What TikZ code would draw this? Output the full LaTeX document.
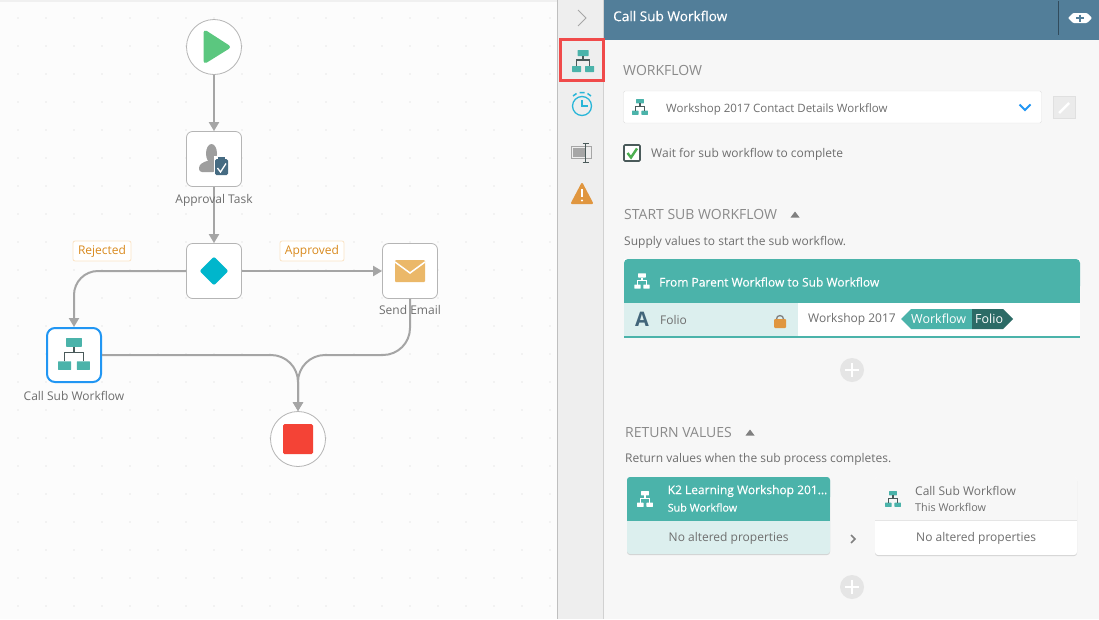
\documentclass[tikz,border=0pt]{standalone}
\usepackage{fontspec}
\setmainfont{Open Sans}
\newfontfamily\semifont[FakeBold=0.25]{Open Sans}
\usetikzlibrary{arrows.meta, positioning, shadows, shapes.geometric}

\definecolor{canvasbg}{HTML}{FCFCFC}
\definecolor{griddot}{HTML}{D4D4D4}
\definecolor{toolbg}{HTML}{EEEEEE}
\definecolor{panelbg}{HTML}{F7F7F7}
\definecolor{headbg}{HTML}{527E99}
\definecolor{flowline}{HTML}{A5A5A5}
\definecolor{stepline}{HTML}{B5B5B5}
\definecolor{teal}{HTML}{4BB3AA}
\definecolor{paleteal}{HTML}{DCEFEE}
\definecolor{darkteal}{HTML}{2C6B66}
\definecolor{inktext}{HTML}{6E6E6E}
\definecolor{headtext}{HTML}{8A8A8A}
\definecolor{slate}{HTML}{4A5A5A}
\definecolor{amber}{HTML}{E0963F}
\definecolor{sky}{HTML}{2196F3}
\definecolor{cyanclock}{HTML}{29B6D8}
\definecolor{playgreen}{HTML}{5BC77F}
\definecolor{gateblue}{HTML}{00B6CC}
\definecolor{mailgold}{HTML}{EBB869}
\definecolor{stopred}{HTML}{F44336}
\definecolor{markred}{HTML}{F04A4A}
\definecolor{branchline}{HTML}{FBE3C4}
\definecolor{branchtext}{HTML}{D98A1E}
\definecolor{checkgreen}{HTML}{4CAF50}

\tikzset{
    stepbox/.style={draw=stepline, fill=white, rounded corners=6pt, minimum size=55pt, inner sep=0pt, line width=0.8pt},
    endpoint/.style={draw=stepline, fill=white, circle, minimum size=55pt, inner sep=0pt, line width=0.8pt},
    flow/.style={draw=flowline, line width=2pt, -{Triangle[length=9pt, width=10pt]}},
    steplabel/.style={font=\fontsize{12}{14}\selectfont, text=inktext, inner sep=0pt},
    branch/.style={draw=branchline, fill=white, rounded corners=2pt, line width=0.8pt, text=branchtext, font=\fontsize{12}{14}\selectfont, inner sep=0pt, minimum height=20pt},
    txt/.style={anchor=west, inner sep=0pt, text=inktext, font=\fontsize{12}{14}\selectfont},
    section/.style={anchor=west, inner sep=0pt, text=headtext, font=\fontsize{14}{16}\selectfont},
    cardshadow/.style={drop shadow={shadow xshift=0pt, shadow yshift=-1pt, opacity=0.15, fill=black}},
    addbtn/.style={circle, fill=black!10, minimum size=24pt, inner sep=0pt},
    pics/orgicon/.style 2 args={code={
        \fill[#1, rounded corners=0.5pt] (-5.5,-11) rectangle (5.5,-5);
        \fill[#1, rounded corners=0.5pt] (-11,5) rectangle (-2,11);
        \fill[#1, rounded corners=0.5pt] (2,5) rectangle (11,11);
        \draw[#2, line width=1.4pt] (0,-5) -- (0,-1) (-6.5,5) -- (-6.5,-1) -- (6.5,-1) -- (6.5,5);
    }},
    pics/plussign/.style={code={
        \draw[white, line width=2.2pt] (-7,0) -- (7,0) (0,-7) -- (0,7);
    }},
}

\begin{document}
\begin{tikzpicture}[x=1pt, y=-1pt]
    \useasboundingbox (0,0) rectangle (1099,619);
    \fill[canvasbg] (0,0) rectangle (557,619);
    \fill[black!6] (0,0) rectangle (557,1.5);

    % Canvas dots
    \foreach \x in {0,...,19} {
        \foreach \y in {0,...,21} {
            \fill[griddot] (18+28*\x,18+28*\y) circle (0.6);
        }
    }

    % Workflow steps
    \node[endpoint] (start) at (214,47) {};
    \node[stepbox] (task) at (214,159) {};
    \node[stepbox] (decide) at (214,271) {};
    \node[stepbox] (mail) at (410,271) {};
    \node[stepbox, draw=sky, line width=2pt, rounded corners=8pt, minimum size=54pt] (call) at (74,355) {};
    \node[endpoint] (stop) at (298,439) {};
    \coordinate (merge) at (298,355);

    % Step icons
    \fill[playgreen, draw=playgreen, line width=4pt, line join=round] (205.5,32.5) -- (228,47) -- (205.5,61) -- cycle;
    \fill[black!38] (211.5,153.5) ellipse (5.5 and 9.5);
    \fill[black!38, rounded corners=3pt] (199,172) -- (199,165) -- (207,160.5) -- (216,160.5) -- (216,172) -- cycle;
    \fill[white] (214,156) rectangle (229,176);
    \fill[headbg!85!black, rounded corners=1.5pt] (215,159) rectangle (228,175);
    \fill[headbg!85!black] (218,157) rectangle (225,160);
    \draw[white, line width=1.3pt] (217.5,168) -- (220.5,172) -- (226,163.5);
    \node[diamond, fill=gateblue, minimum size=29pt, inner sep=0pt, rounded corners=2pt] (decideicon) at (214,271) {};
    \fill[mailgold, rounded corners=1pt] (395,260) rectangle (425,282);
    \draw[white, line width=1.5pt] (395,262) -- (410,273) -- (425,262);
    \pic[scale=1.45] at (74,354) {orgicon={teal}{slate}};
    \fill[stopred, rounded corners=1.5pt] (283,424) rectangle (313,454);

    % Connectors
    \draw[flow] (start) -- (task);
    \draw[flow] (task) -- (decide);
    \draw[flow] (decide) -- (mail);
    \draw[flow, rounded corners=24pt] (decide.west) -| (call.north);
    \draw[flow, rounded corners=27pt] (call.east) -- (merge) -- (stop.north);
    \draw[flow, rounded corners=27pt] (mail.south) |- (merge) -- (stop.north);

    % Step labels
    \node[steplabel, below=7pt of task] (tasklabel) {Approval Task};
    \node[steplabel, below=6.5pt of mail] (maillabel) {Send Email};
    \node[steplabel, below=8pt of call] (calllabel) {Call Sub Workflow};
    \node[branch, minimum width=58pt] (rejected) at (102,251) {\raisebox{-0.8pt}{Rejected}};
    \node[branch, minimum width=64pt] (approved) at (312,251) {\raisebox{-0.8pt}{Approved}};

    % Side panel
    \fill[black!25] (557,0) rectangle (558,619);
    \fill[toolbg] (558,0) rectangle (603,619);
    \fill[black!18] (602.5,0) rectangle (603.5,619);
    \fill[panelbg] (603.5,0) rectangle (1099,619);
    \fill[headbg] (603.5,0) rectangle (1099,40);
    \node[anchor=west, inner sep=0pt, text=white, font=\semifont\fontsize{13.6}{15}\selectfont] (paneltitle) at (613,16) {Call Sub Workflow};
    \draw[headbg!60!black] (1058.5,1) -- (1058.5,35);
    \fill[white, rounded corners=1pt] (1068,18) -- (1073,13) -- (1087,13) -- (1092,18) -- (1087,23) -- (1073,23) -- cycle;
    \draw[headbg, line width=1.5pt] (1076,18) -- (1084,18) (1080,14.5) -- (1080,21.5);

    % Toolbar
    \draw[black!35, line width=1pt] (578,10) -- (586,18) -- (578,26);
    \pic at (583,61) {orgicon={teal}{slate}};
    \draw[markred, line width=3pt] (560.5,39) rectangle (603,80.5);
    \draw[cyanclock, line width=1.3pt] (582,106) circle (9.5);
    \draw[cyanclock, line width=1.3pt] (582,100) -- (582,106) -- (588,106);
    \draw[cyanclock, line width=1.5pt] (573,96) -- (576.5,93.5) (591,96) -- (587.5,93.5) (579.5,92.5) -- (584.5,92.5);
    \draw[black!35, line width=0.8pt] (571,146.5) rectangle (591,158);
    \fill[black!35] (572.5,148) rectangle (585,156.5);
    \draw[slate, line width=1pt] (585.5,143) -- (585.5,162) (582.5,143) -- (588.5,143) (582.5,162) -- (588.5,162);
    \fill[amber, draw=amber, line width=2pt, line join=round] (582,184) -- (592,203) -- (572,203) -- cycle;
    \draw[white, line width=2pt] (582,189) -- (582,197);
    \fill[white] (582,200.5) circle (1.2);

    % Workflow section
    \node[section] (wfhead) at (623,70.5) {WORKFLOW};
    \draw[black!12, fill=white, rounded corners=1.5pt] (623.5,91) rectangle (1041.5,123);
    \pic[scale=0.72] at (640,107) {orgicon={teal}{slate}};
    \node[txt, font=\fontsize{11.5}{14}\selectfont] (wfname) at (666,109) {Workshop 2017 Contact Details Workflow};
    \draw[sky, line width=1.8pt] (1019.5,104.5) -- (1025,110) -- (1030.5,104.5);
    \draw[black!12, fill=black!8] (1053,96) rectangle (1075.5,118.5);
    \draw[white, line width=2.5pt] (1059,113) -- (1069,103);
    \draw[slate, fill=white, line width=1.6pt, rounded corners=1pt] (624,145) rectangle (640,161);
    \draw[checkgreen, line width=2.4pt] (627.5,153) -- (631,157.5) -- (637,148.5);
    \node[txt] (waittext) at (651,154) {Wait for sub workflow to complete};

    % Start section
    \node[section] (starthead) at (624,214.5) {START SUB WORKFLOW};
    \fill[black!50] (790.5,217.5) -- (795,211.5) -- (799.5,217.5) -- cycle;
    \node[txt] (supplytext) at (624,242) {Supply values to start the sub workflow.};
    \fill[white, cardshadow] (624,259) rectangle (1080,337);
    \fill[teal, rounded corners=4pt] (624,259) rectangle (1080,290);
    \fill[teal] (624,275) rectangle (1080,303);
    \fill[paleteal] (624,303) rectangle (798,336);
    \fill[teal] (624,336) rectangle (1080,337.5);
    \pic[scale=0.7] at (642,281) {orgicon={white}{white}};
    \node[txt, text=white, font=\semifont\fontsize{12}{14}\selectfont] (cardtitle) at (659,282) {From Parent Workflow to Sub Workflow};
    \node[inner sep=0pt, text=headbg!80!black, font=\fontsize{20}{22}\bfseries\selectfont] (fieldA) at (642,319) {A};
    \node[txt] (foliotext) at (660,320) {Folio};
    \fill[amber, rounded corners=1pt] (774,319) rectangle (786,328);
    \draw[black!50, line width=1.3pt] (776.5,319) arc (180:360:3.5);
    \node[txt] (worktext) at (808,319) {Workshop 2017};
    \fill[teal] (901,319) -- (911,309) -- (972,309) -- (972,329) -- (911,329) -- cycle;
    \fill[darkteal] (972,309) -- (1003,309) -- (1013,319) -- (1003,329) -- (972,329) -- cycle;
    \node[txt, text=white, font=\fontsize{12.5}{14}\selectfont] (tokenflow) at (911,319) {Workflow};
    \node[txt, text=white, font=\fontsize{12.5}{14}\selectfont] (tokenfolio) at (975,319) {Folio};
    \node[addbtn] (addstart) at (852,370) {};
    \pic at (852,370) {plussign};

    % Return section
    \node[section] (returnhead) at (625,432.5) {RETURN VALUES};
    \fill[black!50] (745.5,435.5) -- (750,429.5) -- (754.5,435.5) -- cycle;
    \node[txt] (returntext) at (625,459) {Return values when the sub process completes.};
    \fill[paleteal, rounded corners=3pt, cardshadow] (627,477) rectangle (830,554);
    \fill[teal, rounded corners=3pt] (627,477) rectangle (830,500);
    \fill[teal] (627,490) rectangle (830,521);
    \pic[scale=0.72] at (645,499) {orgicon={white}{white}};
    \node[txt, text=white, font=\semifont\fontsize{12}{14}\selectfont] (k2title) at (667.5,491) {K2 Learning Workshop 201...};
    \node[txt, text=white, font=\semifont\fontsize{10.8}{12}\selectfont] (k2sub) at (667.5,507.5) {Sub Workflow};
    \node[txt] (k2none) at (668.5,538) {No altered properties};
    \draw[black!50, line width=1.5pt] (851,535) -- (855,539) -- (851,543);
    \fill[white, rounded corners=3pt, cardshadow] (875,477) rectangle (1077,555);
    \fill[panelbg, rounded corners=3pt] (875,477) rectangle (1077,500);
    \fill[panelbg] (875,490) rectangle (1077,520);
    \draw[black!10] (875,520.5) -- (1077,520.5);
    \pic[scale=0.72] at (893,499) {orgicon={teal}{slate}};
    \node[txt] (calltitle) at (915,490.5) {Call Sub Workflow};
    \node[txt, font=\fontsize{10.8}{12}\selectfont] (callsub) at (915,507.5) {This Workflow};
    \node[txt] (callnone) at (916,538) {No altered properties};
    \node[addbtn] (addreturn) at (852,587) {};
    \pic at (852,587) {plussign};
\end{tikzpicture}
\end{document}
